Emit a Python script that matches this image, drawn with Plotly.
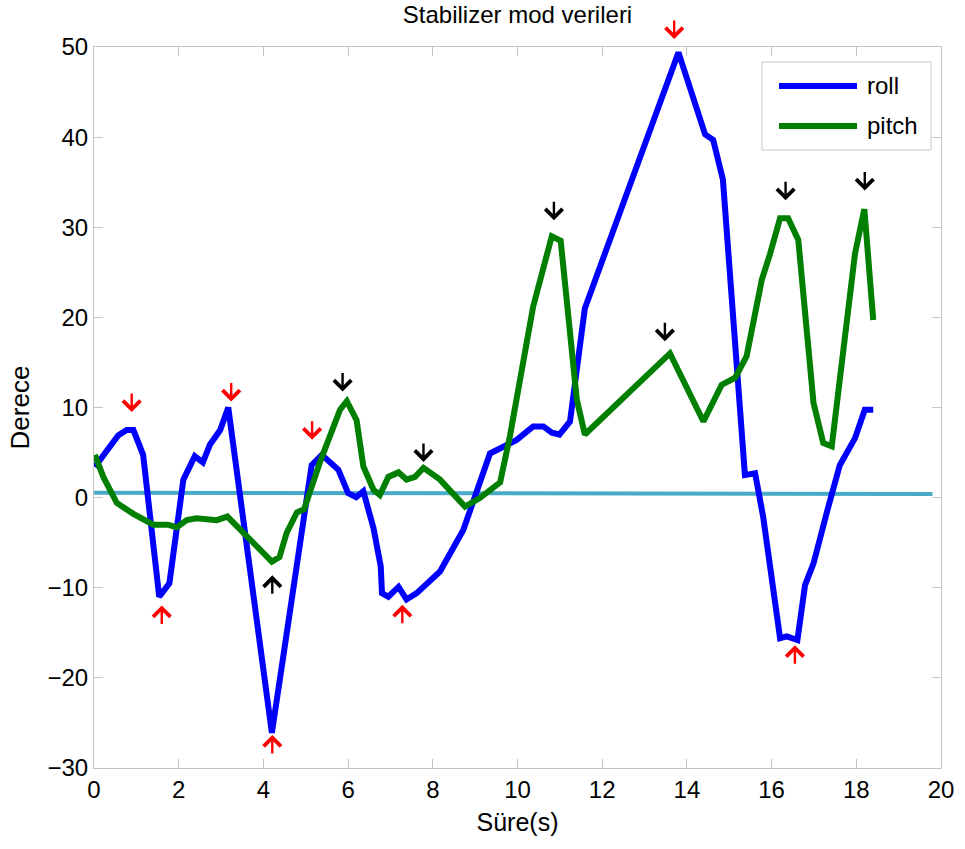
import numpy as np
import plotly.graph_objects as go

# Roll angle over time
roll_t = [0.02, 0.57, 0.77, 0.93, 1.16, 1.54, 1.78, 2.11, 2.38, 2.57, 2.74, 2.98, 3.17,
          4.20, 4.47, 5.14, 5.38, 5.77, 6.00, 6.19, 6.36, 6.60, 6.77, 6.80, 6.95, 7.19,
          7.38, 7.62, 8.17, 8.72, 9.35, 9.98, 10.37, 10.61, 10.81, 10.99, 11.24, 11.59,
          13.80, 14.43, 14.62, 14.85, 15.37, 15.61, 15.80, 16.20, 16.36, 16.61, 16.79,
          16.99, 17.30, 17.61, 17.97, 18.20, 18.40]
roll_deg = [3.4, 6.9, 7.5, 7.5, 4.75, -11.0, -9.5, 2.0, 4.6, 3.9, 5.9, 7.5, 10.0,
            -26.1, -17.6, 3.6, 4.75, 3.1, 0.5, 0.05, 0.7, -3.4, -7.6, -10.6, -11.0, -9.9,
            -11.3, -10.6, -8.2, -3.6, 4.9, 6.4, 7.9, 7.9, 7.2, 7.0, 8.45, 21.0,
            49.4, 40.3, 39.7, 35.3, 2.5, 2.7, -2.1, -15.6, -15.4, -15.8, -9.7,
            -7.3, -1.7, 3.6, 6.6, 9.75, 9.75]

# Pitch angle over time
pitch_t = [0.02, 0.22, 0.54, 0.93, 1.40, 1.75, 1.95, 2.19, 2.42, 2.70, 2.90, 3.15, 3.53,
           4.20, 4.38, 4.55, 4.79, 4.96, 5.34, 5.81, 5.97, 6.20, 6.36, 6.60, 6.75, 6.95,
           7.19, 7.38, 7.58, 7.78, 8.17, 8.76, 9.11, 9.59, 9.82, 10.37, 10.81, 11.02,
           11.40, 11.59, 13.60, 14.39, 14.82, 15.14, 15.41, 15.77, 15.96, 16.20, 16.39,
           16.63, 16.99, 17.22, 17.42, 17.97, 18.19, 18.40]
pitch_deg = [4.75, 2.3, -0.6, -1.8, -3.0, -3.0, -3.3, -2.5, -2.3, -2.5, -2.5, -2.1, -3.9,
             -7.1, -6.6, -3.9, -1.65, -1.3, 4.0, 9.75, 10.7, 8.6, 3.45, 0.87, 0.3, 2.3,
             2.8, 2.0, 2.3, 3.3, 2.0, -1.0, -0.05, 1.7, 6.8, 21.2, 29.0, 28.5,
             10.9, 7.0, 16.0, 8.45, 12.5, 13.3, 15.7, 24.2, 27.0, 31.0, 31.0,
             28.6, 10.5, 6.05, 5.7, 27.1, 32.0, 19.7]

# Reference level line
ref_t = [-0.1, 19.8]
ref_deg = [0.55, 0.4]

# Times of the marked extrema
roll_max_t = [0.89, 3.24, 5.15, 13.70]
roll_min_t = [1.60, 4.21, 7.28, 16.55]
pitch_max_t = [5.87, 7.78, 10.86, 13.48, 16.33, 18.20]
pitch_min_t = [4.21]

x_ticks = list(range(0, 21, 2))
y_ticks = list(range(-30, 51, 10))

W, H = 965, 849
L, R, T, B = 94, 24, 47, 81

BLUE = "#0000ff"
GREEN = "#007f00"
CYAN = "#4aabc6"
FONT = "Liberation Sans, Arial, sans-serif"

fig = go.Figure()
fig.add_trace(go.Scatter(x=ref_t, y=ref_deg, mode="lines",
                         line=dict(color=CYAN, width=4), showlegend=False))
fig.add_trace(go.Scatter(x=roll_t, y=roll_deg, mode="lines", name="roll",
                         line=dict(color=BLUE, width=6), showlegend=False))
fig.add_trace(go.Scatter(x=pitch_t, y=pitch_deg, mode="lines", name="pitch",
                         line=dict(color=GREEN, width=6), showlegend=False))


def marker(t, ts, ys, down, color, gap):
    """Small arrow pointing at the curve value at time t, offset by gap px."""
    y = float(np.interp(t, ts, ys))
    return dict(x=t, y=y, xref="x", yref="y", text="", showarrow=True,
                arrowhead=4, arrowsize=1.4, arrowwidth=2.4, arrowcolor=color,
                ax=0, ay=-20 if down else 20, standoff=0,
                yshift=gap if down else -gap)


anns = []
for t, g in zip(roll_max_t, [18, 28, 25, 25]):
    anns.append(marker(t, roll_t, roll_deg, True, "#ff0000", g))
for t, g in zip(roll_min_t, [12, 5, 12, 6]):
    anns.append(marker(t, roll_t, roll_deg, False, "#ff0000", g))
for t, g in zip(pitch_max_t, [15, 6, 17, 17, 18, 24]):
    anns.append(marker(t, pitch_t, pitch_deg, True, "#000000", g))
for t, g in zip(pitch_min_t, [14]):
    anns.append(marker(t, pitch_t, pitch_deg, False, "#000000", g))

# Hand-drawn legend box in the upper right corner
pw, ph = W - L - R, H - T - B


def px(xp):
    return (xp - L) / pw


def py(yp):
    return (H - B - yp) / ph


shapes = [dict(type="rect", xref="paper", yref="paper",
               x0=px(762), x1=px(931), y0=py(150), y1=py(62),
               line=dict(color="#c8c8c8", width=1), fillcolor="white")]
for yy, col, label in [(86, BLUE, "roll"), (126, GREEN, "pitch")]:
    shapes.append(dict(type="line", xref="paper", yref="paper",
                       x0=px(779), x1=px(857), y0=py(yy), y1=py(yy),
                       line=dict(color=col, width=6)))
    anns.append(dict(x=px(865), y=py(yy), xref="paper", yref="paper",
                     text=label, showarrow=False, xanchor="left", yanchor="middle",
                     font=dict(size=24, color="black", family=FONT)))

axis_common = dict(showline=True, mirror="ticks", linecolor="#c4c4c4", linewidth=1,
                   ticks="inside", ticklen=9, tickcolor="#c4c4c4", tickwidth=1,
                   showgrid=False, zeroline=False,
                   tickfont=dict(size=24, color="black", family=FONT))

fig.update_layout(
    width=W, height=H,
    margin=dict(l=L, r=R, t=T, b=B),
    paper_bgcolor="white", plot_bgcolor="white",
    title=dict(text="Stabilizer mod verileri", x=(L + pw / 2) / W, xanchor="center",
               y=1 - 15 / H, yanchor="middle",
               font=dict(size=24, color="black", family=FONT)),
    xaxis=dict(range=[0, 20], tickvals=x_ticks,
               title=dict(text="Süre(s)", standoff=11,
                          font=dict(size=25, color="black", family=FONT)),
               **axis_common),
    yaxis=dict(range=[-30, 50], tickvals=y_ticks,
               title=dict(text="Derece", standoff=10,
                          font=dict(size=26, color="black", family=FONT)),
               **axis_common),
    shapes=shapes,
    annotations=anns,
    showlegend=False,
)

fig.write_html("out.html")
